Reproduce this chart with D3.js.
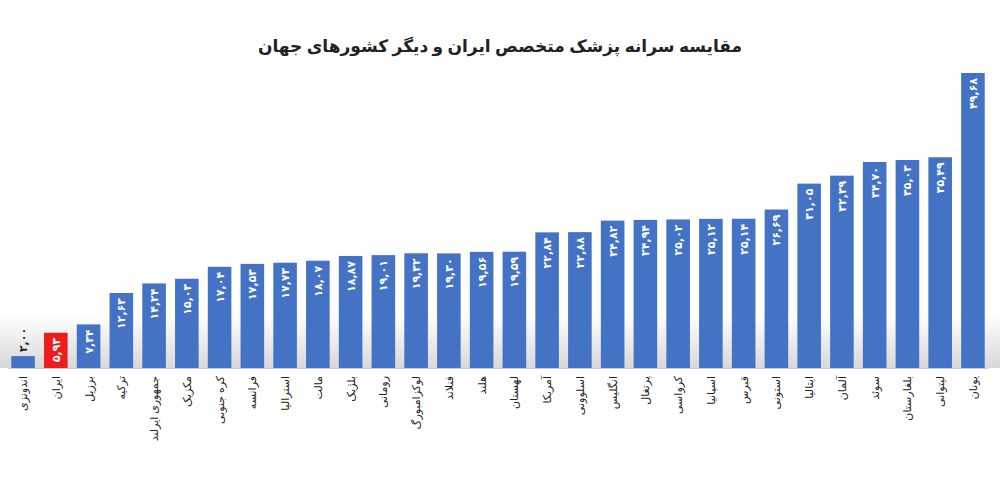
<!DOCTYPE html><html><head><meta charset="utf-8"><script src="https://cdn.jsdelivr.net/npm/d3@7/dist/d3.min.js"></script>
<style>body{margin:0;background:#fff}</style></head><body><svg id="c" width="1000" height="480"></svg>
<script>
const categories=["اندونزی","ایران","برزیل","ترکیه","جمهوری ایرلند","مکزیک","کره جنوبی","فرانسه","استرالیا","مالت","بلژیک","رومانی","لوکزامبورگ","فنلاند","هلند","لهستان","آمریکا","اسلوونی","انگلیس","پرتغال","کرواسی","اسپانیا","قبرس","استونی","ایتالیا","آلمان","سوئد","بلغارستان","لیتوانی","یونان"];
const values=[2.00,5.93,7.34,12.63,14.24,15.03,17.04,17.53,17.73,18.07,18.87,19.01,19.32,19.30,19.56,19.59,22.84,22.88,24.82,24.94,25.02,25.12,25.14,26.69,31.05,32.39,34.70,35.03,35.49,49.68];
const title="مقایسه سرانه پزشک متخصص ایران و دیگر کشورهای جهان";
const highlight="ایران";
const svg=d3.select("#c");
const fa=v=>v.toFixed(2).replace(".",",").replace(/\d/g,d=>"۰۱۲۳۴۵۶۷۸۹"[d]);
const defs=svg.append("defs");
const g=defs.append("linearGradient").attr("id","sh").attr("x1",0).attr("x2",0).attr("y1",0).attr("y2",1);
g.append("stop").attr("offset","0").attr("stop-color","#fff");
g.append("stop").attr("offset","1").attr("stop-color","#d8d8d8");
svg.append("rect").attr("x",0).attr("y",315).attr("width",1000).attr("height",53).attr("fill","url(#sh)");
const x=d3.scaleBand().domain(categories).range([8,988]).paddingInner(0.28).paddingOuter(0.1);
const y=d3.scaleLinear().domain([0,49.68]).range([368,73]);
svg.append("text").attr("x",500).attr("y",52).attr("text-anchor","middle").attr("font-family","Noto Sans, DejaVu Sans").attr("font-weight","bold").attr("font-size",17).attr("fill","#222").attr("direction","rtl").text(title);
svg.selectAll("rect.b").data(values).join("rect").attr("class","b")
 .attr("x",(d,i)=>x(categories[i])).attr("width",x.bandwidth()).attr("y",d=>y(d)).attr("height",d=>y(0)-y(d))
 .attr("fill",(d,i)=>categories[i]===highlight?"#ee1c1c":"#4472c4");
svg.selectAll("text.v").data(values).join("text").attr("class","v")
 .attr("transform",(d,i)=>{const cx=x(categories[i])+x.bandwidth()/2+4;const small=y(0)-y(d)<30;return `translate(${cx},${small?y(d)-4:y(d)+5}) rotate(-90)`;})
 .attr("text-anchor",(d)=>y(0)-y(d)<30?"start":"end").attr("font-family","DejaVu Sans").attr("font-weight","bold").attr("font-size",11)
 .attr("fill",d=>y(0)-y(d)<30?"#222":"#fff").text(d=>fa(d));
const ax=svg.append("g").attr("transform","translate(0,368)").call(d3.axisBottom(x).tickSize(0).tickFormat(""));
ax.select(".domain").attr("stroke","#ccc");
svg.selectAll("text.c").data(categories).join("text").attr("class","c")
 .attr("transform",d=>`translate(${x(d)+x.bandwidth()/2+4},376) rotate(-90)`)
 .attr("text-anchor","end").attr("font-family","Noto Sans, DejaVu Sans").attr("font-size",11).attr("fill","#222").text(d=>d);
</script></body></html>
